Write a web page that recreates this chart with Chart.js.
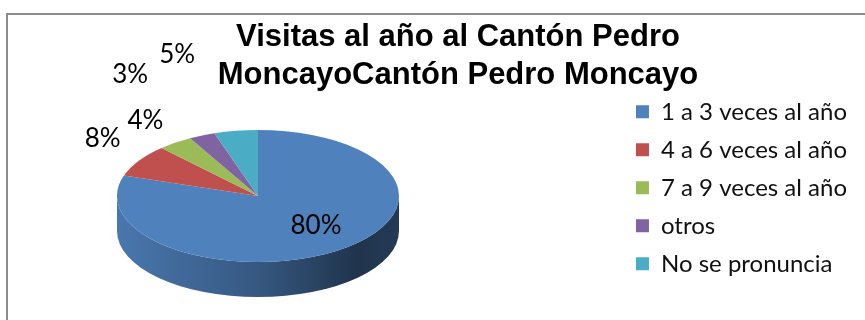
<!DOCTYPE html>
<html>
<head>
<meta charset="utf-8">
<script src="https://cdn.jsdelivr.net/npm/chart.js@4.4.1/dist/chart.umd.min.js"></script>
<style>
  body { margin: 0; background: #fff; }
</style>
</head>
<body>
<canvas id="myChart" width="865" height="320"></canvas>
<script>
// Datos
const categorias = ['1 a 3 veces al año', '4 a 6 veces al año', '7 a 9 veces al año', 'otros', 'No se pronuncia']
const porcentajes = [80, 8, 4, 3, 5]
const titulo = ['Visitas al año al Cantón Pedro', 'MoncayoCantón Pedro Moncayo']

const colores = ['#4F81BD', '#C0504D', '#9BBB59', '#8064A2', '#4BACC6']

function oscurecer(hex, f) {
  const n = parseInt(hex.slice(1), 16)
  const r = Math.round(((n >> 16) & 255) * f)
  const g = Math.round(((n >> 8) & 255) * f)
  const b = Math.round((n & 255) * f)
  return 'rgb(' + r + ',' + g + ',' + b + ')'
}

// marco gris del grafico
const marco = {
  id: 'marco',
  beforeDraw(chart) {
    const ctx = chart.ctx
    ctx.save()
    ctx.strokeStyle = '#8c8c8c'
    ctx.lineWidth = 2
    ctx.strokeRect(7, 14, 900, 400)
    ctx.restore()
  }
}

// torta en 3D usando los angulos que calcula Chart.js
const torta3d = {
  id: 'torta3d',
  beforeDatasetsDraw(chart, args, opts) {
    const ctx = chart.ctx
    const arcos = chart.getDatasetMeta(0).data
    const cx = opts.cx, cy = opts.cy, rx = opts.rx, ry = opts.ry, prof = opts.prof
    ctx.save()
    // lados
    arcos.forEach((arco, i) => {
      const a = Math.max(arco.startAngle, 0)
      const b = Math.min(arco.endAngle, Math.PI)
      if (b <= a) return
      const grad = ctx.createLinearGradient(cx - rx, 0, cx + rx, 0)
      grad.addColorStop(0, oscurecer(colores[i], 0.92))
      grad.addColorStop(0.5, oscurecer(colores[i], 0.68))
      grad.addColorStop(0.85, oscurecer(colores[i], 0.4))
      grad.addColorStop(1, oscurecer(colores[i], 0.45))
      ctx.beginPath()
      ctx.ellipse(cx, cy, rx, ry, 0, a, b)
      ctx.ellipse(cx, cy + prof, rx, ry, 0, b, a, true)
      ctx.closePath()
      ctx.fillStyle = grad
      ctx.fill()
    })
    // cara superior
    arcos.forEach((arco, i) => {
      ctx.beginPath()
      ctx.moveTo(cx, cy)
      ctx.ellipse(cx, cy, rx, ry, 0, arco.startAngle, arco.endAngle)
      ctx.closePath()
      ctx.fillStyle = colores[i]
      ctx.fill()
    })
    ctx.restore()
    return false
  },
  afterDraw(chart, args, opts) {
    const ctx = chart.ctx
    const arcos = chart.getDatasetMeta(0).data
    const cx = opts.cx, cy = opts.cy, rx = opts.rx, ry = opts.ry
    ctx.save()
    ctx.font = '26px Lato'
    ctx.fillStyle = '#000'
    ctx.textAlign = 'center'
    ctx.textBaseline = 'middle'
    arcos.forEach((arco, i) => {
      const m = (arco.startAngle + arco.endAngle) / 2
      let x, y
      if (porcentajes[i] >= 50) {
        x = cx + Math.cos(m) * rx * 0.7
        y = cy + Math.sin(m) * ry * 0.55
      } else {
        x = cx + Math.cos(m) * (rx + 30) + opts.ajustes[i][0]
        y = cy + Math.sin(m) * (ry + 30) + opts.ajustes[i][1]
      }
      ctx.fillText(porcentajes[i] + '%', x, y)
    })
    ctx.restore()
  }
}

const ctx = document.getElementById('myChart')

const data = {
  labels: categorias,
  datasets: [{
    data: porcentajes,
    backgroundColor: colores,
    borderWidth: 0
  }]
}

const config = {
  type: 'pie',
  data: data,
  options: {
    responsive: false,
    animation: false,
    devicePixelRatio: 1,
    layout: {
      padding: { left: 59, right: 8, top: 0, bottom: 25 }
    },
    plugins: {
      title: {
        display: true,
        text: titulo,
        color: '#000',
        font: { family: 'Liberation Sans', size: 31, weight: 'bold', lineHeight: 1.22 },
        padding: { top: 19, bottom: -14 }
      },
      legend: {
        position: 'right',
        fullSize: false,
        labels: {
          color: '#111',
          font: { family: 'Lato', size: 24 },
          boxWidth: 13,
          boxHeight: 13,
          padding: 14
        }
      },
      tooltip: { enabled: false },
      torta3d: {
        cx: 258, cy: 196, rx: 141, ry: 66, prof: 35,
        ajustes: [[0, 0], [-11, -6], [-12, 2], [-60, -33], [-54, -47]]
      }
    }
  },
  plugins: [marco, torta3d]
}

const myChart = new Chart(ctx, config)
</script>
</body>
</html>
